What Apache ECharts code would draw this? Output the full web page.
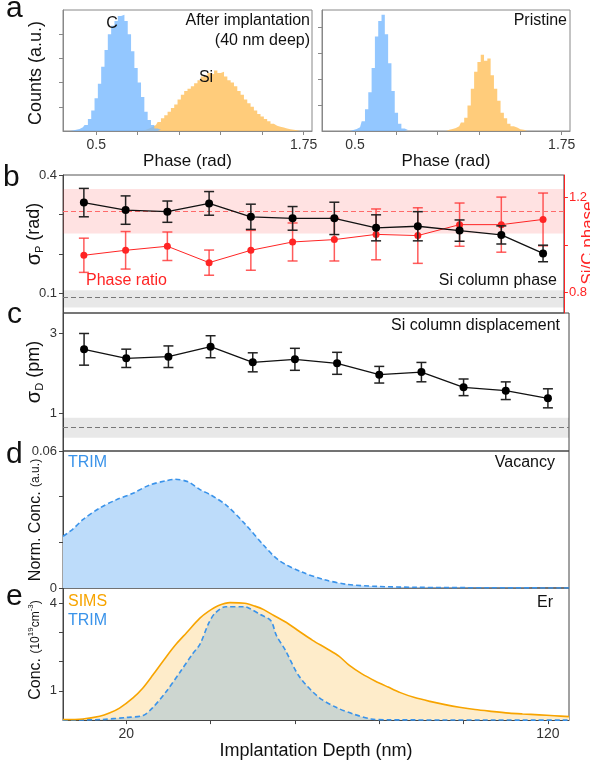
<!DOCTYPE html>
<html>
<head>
<meta charset="utf-8">
<script src="https://cdn.jsdelivr.net/npm/echarts@6/dist/echarts.min.js"></script>
<style>
  html, body { margin: 0; padding: 0; background: #fff; }
  #main { width: 590px; height: 761px; }
</style>
</head>
<body>
<div id="main"></div>
<script>
// panel a: phase histograms (bin width 0.02 rad, counts normalised to plot height = 100)
const phaseStep = 0.02;
const cAfterStart = 0.36;
const cAfter = [0.5, 1, 1.7, 3, 5, 10, 17, 27, 39, 53, 67, 80, 87, 91, 95, 96, 91, 80, 66, 52, 40, 28, 16, 9, 5, 2, 1];
const siAfterStart = 0.80;
const siAfter = [1, 2, 3.5, 5, 7.5, 10.5, 13, 16, 19, 22, 26, 30, 33, 35, 37, 39.5, 42, 45, 46, 48, 47, 50, 48, 49, 45,
  42, 40, 37, 33, 30, 26, 23, 20, 17, 14, 12, 10, 8, 6, 4.4, 3.5, 2.8, 2, 1.5, 1.1, 0.6, 0.3];
const cPristineStart = 0.49;
const cPristine = [0.8, 1.7, 3, 8, 18, 32, 52, 78, 91, 96, 80, 56, 33, 15, 6, 2, 0.8];
const siPristineStart = 1.07;
const siPristine = [1, 1.7, 2.5, 4, 7, 11, 21, 35, 49, 57, 63, 58, 60, 46, 35, 25, 15, 10.5, 6, 4, 2.8, 1.5, 1.1, 0.4];

// panels b, c: per-depth statistics
const depth = [10, 20, 30, 40, 50, 60, 70, 80, 90, 100, 110, 120];
const sigmaP = [0.330, 0.311, 0.307, 0.328, 0.294, 0.290, 0.290, 0.266, 0.270, 0.259, 0.248, 0.201];
const sigmaPErr = [0.036, 0.036, 0.027, 0.030, 0.032, 0.030, 0.041, 0.033, 0.037, 0.027, 0.023, 0.021];
const ratio = [0.956, 0.977, 0.994, 0.925, 0.977, 1.012, 1.022, 1.044, 1.039, 1.085, 1.085, 1.107];
const ratioErr = [0.072, 0.079, 0.060, 0.053, 0.084, 0.080, 0.090, 0.107, 0.117, 0.091, 0.116, 0.111];
const sigmaD = [2.60, 2.375, 2.415, 2.665, 2.275, 2.35, 2.25, 1.965, 2.03, 1.65, 1.565, 1.375];
const sigmaDErr = [0.396, 0.229, 0.27, 0.275, 0.238, 0.275, 0.275, 0.208, 0.242, 0.208, 0.221, 0.238];

// pristine reference levels [low, mean, high]
const pristineRatio = [1.048, 1.138, 1.235];
const pristineSigmaP = [0.064, 0.088, 0.108];
const pristineSigmaD = [0.39, 0.64, 0.89];

// panel d: TRIM vacancy profile
const vacDepth = [5, 7.35, 9.7, 13.7, 17.6, 21.6, 25.5, 29.5, 31.5, 34.7, 37.4, 40.1, 43.7, 48.1, 52.6, 56.2, 61.6, 66.9, 72.3, 79.5, 88.4, 106.3, 125];
const vacancy = [0.0226, 0.0258, 0.0299, 0.035, 0.0386, 0.0415, 0.0451, 0.047, 0.0476, 0.0465, 0.0432, 0.0407, 0.0363, 0.0282, 0.0187, 0.0121, 0.007, 0.0037, 0.0016, 0.0007, 0.0003, 0.0001, 0];

// panel e: Er concentration
const simsDepth = [5, 9.7, 13.7, 16, 18.4, 21.6, 23.9, 26.3, 29.5, 31.9, 34.3, 37.4, 39.5, 41.9, 44.6, 48.1, 50.5, 52.6, 55, 58,
  61, 64.2, 67.5, 70.5, 73, 75.9, 79, 82.1, 85, 88.4, 92, 95.6, 99, 102.7, 106.5, 110.8, 114, 117.9, 121.5, 125];
const sims = [0.02, 0.04, 0.13, 0.24, 0.41, 0.76, 1.09, 1.54, 2.17, 2.61, 2.99, 3.48, 3.72, 3.92, 4.02, 4.0, 3.9, 3.78, 3.58, 3.34,
  3.04, 2.73, 2.45, 2.18, 1.86, 1.58, 1.34, 1.13, 0.94, 0.77, 0.64, 0.53, 0.44, 0.36, 0.3, 0.24, 0.21, 0.18, 0.15, 0.12];
const trimDepth = [5, 14, 20, 24, 26.3, 29.5, 32.7, 35.8, 37.5, 39.5, 41, 43.6, 48.1, 49.5, 51.7, 54.3, 55.6, 57.7, 61, 65.5, 70, 74, 78, 82, 125];
const trim = [0, 0.02, 0.09, 0.16, 0.43, 0.98, 1.63, 2.28, 2.6, 3.3, 3.65, 3.88, 3.88, 3.8, 3.62, 3.4, 2.9, 2.4, 1.5, 0.8, 0.42, 0.2, 0.04, 0.01, 0];

const FONT = 'Liberation Sans, Arial, sans-serif';
const RED = '#ff2424';
const BLUE = '#3a93ea';
const ORANGE = '#f7a400';

function histData(start, counts) {
  let d = [[start - phaseStep, 0]];
  counts.forEach((c, i) => d.push([start + i * phaseStep, c]));
  d.push([start + counts.length * phaseStep, 0]);
  return d;
}
function pairs(xs, ys) { return xs.map((x, i) => [x, ys[i]]); }
function errData(vals, errs) { return depth.map((d, i) => [d, vals[i] - errs[i], vals[i] + errs[i]]); }

function errorBar(color) {
  return function (params, api) {
    let x = api.value(0);
    let lo = api.coord([x, api.value(1)]);
    let hi = api.coord([x, api.value(2)]);
    let half = 5;
    let style = { stroke: color, lineWidth: 1.5 };
    return {
      type: 'group',
      children: [
        { type: 'line', shape: { x1: lo[0], y1: hi[1], x2: lo[0], y2: lo[1] }, style: style },
        { type: 'line', shape: { x1: lo[0] - half, y1: hi[1], x2: lo[0] + half, y2: hi[1] }, style: style },
        { type: 'line', shape: { x1: lo[0] - half, y1: lo[1], x2: lo[0] + half, y2: lo[1] }, style: style }
      ]
    };
  };
}

function histSeries(idx, data, color, z) {
  return {
    type: 'line', xAxisIndex: idx, yAxisIndex: idx, data: data, step: 'middle',
    symbol: 'none', lineStyle: { width: 0 }, areaStyle: { color: color, opacity: 1 }, z: z, silent: true
  };
}

// axes helpers
function phaseAxis(idx) {
  return {
    type: 'value', gridIndex: idx, min: 0.3, max: 1.8,
    splitLine: { show: false },
    axisLine: { show: true, lineStyle: { color: '#888' } },
    axisTick: { show: true, length: 4, lineStyle: { color: '#888' }, customValues: [0.5, 0.75, 1, 1.25, 1.5, 1.75] },
    axisLabel: { customValues: [0.5, 1.75], color: '#333', fontSize: 14, fontFamily: FONT, margin: 7 },
    name: 'Phase (rad)', nameLocation: 'middle', nameGap: 9,
    nameTextStyle: { color: '#111', fontSize: 17, fontFamily: FONT, verticalAlign: 'top' }
  };
}
function countAxis(idx, ticks) {
  return {
    type: 'value', gridIndex: idx, min: 0, max: 100,
    splitLine: { show: false },
    axisLine: { show: true, lineStyle: { color: '#888' } },
    axisTick: { show: true, length: 4, lineStyle: { color: '#888' }, customValues: ticks },
    axisLabel: { show: false }
  };
}
function depthAxis(idx, last) {
  return {
    type: 'value', gridIndex: idx, min: 5, max: 125,
    splitLine: { show: false },
    axisLine: { show: last, lineStyle: { color: '#444' } },
    axisTick: { show: last, length: 4, lineStyle: { color: '#444' }, customValues: [20, 40, 60, 80, 100, 120] },
    axisLabel: { show: last, customValues: [20, 120], color: '#333', fontSize: 14, fontFamily: FONT, margin: 7 },
    name: last ? 'Implantation Depth (nm)' : '', nameLocation: 'middle', nameGap: 13,
    nameTextStyle: { color: '#111', fontSize: 18, fontFamily: FONT, verticalAlign: 'top' }
  };
}
function valueAxis(idx, min, max, ticks, labels, color, pos) {
  return {
    type: 'value', gridIndex: idx, min: min, max: max, position: pos || 'left',
    splitLine: { show: false },
    axisLine: { show: true, lineStyle: { color: color || '#444' } },
    axisTick: { show: true, length: 4, lineStyle: { color: color || '#444' }, customValues: ticks },
    axisLabel: { customValues: labels, color: color || '#333', fontSize: 13, fontFamily: FONT, margin: 6 }
  };
}

const chart = echarts.init(document.getElementById('main'), null, { renderer: 'canvas' });

function txt(text, x, y, opts) {
  opts = opts || {};
  return {
    type: 'text', x: x, y: y, rotation: opts.rot || 0, silent: true, z: 100,
    style: {
      text: text, fill: opts.color || '#111', align: opts.align || 'left', verticalAlign: 'middle',
      font: (opts.size || 16) + 'px ' + FONT, rich: opts.rich
    }
  };
}

const option = {
  animation: false,
  backgroundColor: '#fff',
  grid: [
    { left: 63, top: 10, width: 249, height: 121, show: true, borderColor: '#888', borderWidth: 1 },
    { left: 322, top: 10, width: 248, height: 121, show: true, borderColor: '#888', borderWidth: 1 },
    { left: 63, top: 175, width: 506, height: 138, show: true, borderColor: '#555', borderWidth: 1 },
    { left: 63, top: 313, width: 506, height: 138, show: true, borderColor: '#444', borderWidth: 1 },
    { left: 63, top: 451, width: 506, height: 137, show: true, borderColor: '#444', borderWidth: 1 },
    { left: 63, top: 588, width: 506, height: 138, show: true, borderColor: '#444', borderWidth: 1 }
  ],
  xAxis: [
    phaseAxis(0), phaseAxis(1),
    depthAxis(2, false), depthAxis(3, false), depthAxis(4, false), depthAxis(5, true)
  ],
  yAxis: [
    countAxis(0, [20, 40, 60, 80]),
    countAxis(1, [21.5, 43, 64.5, 86]),
    valueAxis(2, 0.05, 0.4, [0.1, 0.2, 0.3, 0.4], [0.1, 0.4]),
    valueAxis(3, 0.058, 3.508, [1, 3], [1, 3]),
    valueAxis(4, 0, 0.06, [0, 0.02, 0.04, 0.06], [0, 0.06]),
    valueAxis(5, 0, 4.52, [1, 2, 3, 4], [1, 4]),
    Object.assign(valueAxis(2, 0.713, 1.294, [0.8, 1.0, 1.2], [0.8, 1.2], RED, 'right'), { axisLabel: { customValues: [0.8, 1.2], color: RED, fontSize: 13, fontFamily: FONT, margin: 5 } })
  ],
  series: [
    histSeries(0, histData(siAfterStart, siAfter), 'rgba(255,195,100,0.85)', 2),
    histSeries(0, histData(cAfterStart, cAfter), 'rgba(120,185,255,0.8)', 3),
    histSeries(1, histData(siPristineStart, siPristine), 'rgba(255,195,100,0.85)', 2),
    histSeries(1, histData(cPristineStart, cPristine), 'rgba(120,185,255,0.8)', 3),

    // panel b, Si/C phase ratio (right axis)
    {
      type: 'custom', xAxisIndex: 2, yAxisIndex: 6, renderItem: errorBar('rgba(255,50,50,0.8)'),
      data: errData(ratio, ratioErr), encode: { x: 0, y: [1, 2] }, z: 3
    },
    {
      type: 'line', xAxisIndex: 2, yAxisIndex: 6, data: pairs(depth, ratio),
      symbol: 'circle', symbolSize: 7, itemStyle: { color: RED }, lineStyle: { color: RED, width: 1 }, z: 4,
      markArea: { silent: true, itemStyle: { color: 'rgba(255,60,60,0.15)' }, data: [[{ yAxis: pristineRatio[0] }, { yAxis: pristineRatio[2] }]] },
      markLine: { silent: true, symbol: 'none', label: { show: false }, lineStyle: { color: '#ff6a6a', type: [5, 3], width: 1 }, data: [{ yAxis: pristineRatio[1] }] }
    },
    // panel b, sigma P (left axis)
    {
      type: 'custom', xAxisIndex: 2, yAxisIndex: 2, renderItem: errorBar('#222'),
      data: errData(sigmaP, sigmaPErr), encode: { x: 0, y: [1, 2] }, z: 5
    },
    {
      type: 'line', xAxisIndex: 2, yAxisIndex: 2, data: pairs(depth, sigmaP),
      symbol: 'circle', symbolSize: 8, itemStyle: { color: '#000' }, lineStyle: { color: '#111', width: 1.3 }, z: 6,
      markArea: { silent: true, itemStyle: { color: 'rgba(0,0,0,0.09)' }, data: [[{ yAxis: pristineSigmaP[0] }, { yAxis: pristineSigmaP[2] }]] },
      markLine: { silent: true, symbol: 'none', label: { show: false }, lineStyle: { color: '#777', type: [5, 3], width: 1 }, data: [{ yAxis: pristineSigmaP[1] }] }
    },
    // panel c
    {
      type: 'custom', xAxisIndex: 3, yAxisIndex: 3, renderItem: errorBar('#222'),
      data: errData(sigmaD, sigmaDErr), encode: { x: 0, y: [1, 2] }, z: 5
    },
    {
      type: 'line', xAxisIndex: 3, yAxisIndex: 3, data: pairs(depth, sigmaD),
      symbol: 'circle', symbolSize: 8, itemStyle: { color: '#000' }, lineStyle: { color: '#111', width: 1.3 }, z: 6,
      markArea: { silent: true, itemStyle: { color: 'rgba(0,0,0,0.09)' }, data: [[{ yAxis: pristineSigmaD[0] }, { yAxis: pristineSigmaD[2] }]] },
      markLine: { silent: true, symbol: 'none', label: { show: false }, lineStyle: { color: '#777', type: [5, 3], width: 1 }, data: [{ yAxis: pristineSigmaD[1] }] }
    },
    // panel d
    {
      type: 'line', xAxisIndex: 4, yAxisIndex: 4, data: pairs(vacDepth, vacancy), smooth: 0.3,
      symbol: 'none', lineStyle: { color: BLUE, width: 1.6, type: [5, 3] }, areaStyle: { color: '#bddcfa', opacity: 1 }
    },
    // panel e
    {
      type: 'line', xAxisIndex: 5, yAxisIndex: 5, data: pairs(simsDepth, sims), smooth: 0.3,
      symbol: 'none', lineStyle: { width: 0 }, areaStyle: { color: '#feecca', opacity: 1 }, z: 1
    },
    {
      type: 'line', xAxisIndex: 5, yAxisIndex: 5, data: pairs(trimDepth, trim), smooth: 0.3,
      symbol: 'none', lineStyle: { color: BLUE, width: 1.6, type: [5, 3] }, areaStyle: { color: '#cdd6d0', opacity: 1 }, z: 2
    },
    {
      type: 'line', xAxisIndex: 5, yAxisIndex: 5, data: pairs(simsDepth, sims), smooth: 0.3,
      symbol: 'none', lineStyle: { color: ORANGE, width: 1.6 }, z: 3
    }
  ],
  graphic: [
    // panel letters
    txt('a', 6, 9, { size: 30 }),
    txt('b', 3, 178, { size: 30 }),
    txt('c', 7, 315, { size: 30 }),
    txt('d', 6, 455, { size: 30 }),
    txt('e', 6, 597, { size: 30 }),
    // panel a
    txt('After implantation', 310, 21, { align: 'right' }),
    txt('(40 nm deep)', 310, 41, { align: 'right' }),
    txt('C', 112, 24, { align: 'center' }),
    txt('Si', 206, 78, { align: 'center' }),
    txt('Pristine', 567, 21, { align: 'right' }),
    txt('Counts (a.u.)', 36, 73, { rot: Math.PI / 2, align: 'center', size: 18 }),
    // panel b
    txt('Phase ratio', 86, 281, { color: RED }),
    txt('Si column phase', 557, 281, { align: 'right' }),
    txt('{g|σ}{s|P}{n| (rad)}', 34, 234, {
      rot: Math.PI / 2, align: 'center',
      rich: {
        g: { fontSize: 20, fontFamily: FONT, fill: '#111', lineHeight: 22 },
        s: { fontSize: 11, fontFamily: FONT, fill: '#111', verticalAlign: 'bottom', lineHeight: 22 },
        n: { fontSize: 18, fontFamily: FONT, fill: '#111', lineHeight: 22 }
      }
    }),
    txt('Si/C phase', 588, 243, { rot: Math.PI / 2, align: 'center', size: 17, color: RED }),
    // panel c
    txt('Si column displacement', 560, 326, { align: 'right' }),
    txt('{g|σ}{s|D}{n| (pm)}', 34, 372, {
      rot: Math.PI / 2, align: 'center',
      rich: {
        g: { fontSize: 20, fontFamily: FONT, fill: '#111', lineHeight: 22 },
        s: { fontSize: 11, fontFamily: FONT, fill: '#111', verticalAlign: 'bottom', lineHeight: 22 },
        n: { fontSize: 18, fontFamily: FONT, fill: '#111', lineHeight: 22 }
      }
    }),
    // panel d
    txt('TRIM', 68, 463, { color: BLUE }),
    txt('Vacancy', 555, 463, { align: 'right' }),
    txt('{b|Norm. Conc. }{s|(a.u.)}', 36, 520, {
      rot: Math.PI / 2, align: 'center',
      rich: {
        b: { fontSize: 16, fontFamily: FONT, fill: '#111', lineHeight: 18 },
        s: { fontSize: 12, fontFamily: FONT, fill: '#111', lineHeight: 18 }
      }
    }),
    // panel e
    txt('SIMS', 68, 602, { color: ORANGE }),
    txt('TRIM', 68, 621, { color: BLUE }),
    txt('Er', 553, 603, { align: 'right' }),
    txt('{b|Conc. }{s|(10}{p|19}{s|cm}{p|-3}{s|)}', 36, 650, {
      rot: Math.PI / 2, align: 'center',
      rich: {
        b: { fontSize: 16, fontFamily: FONT, fill: '#111', lineHeight: 18 },
        s: { fontSize: 12, fontFamily: FONT, fill: '#111', lineHeight: 18 },
        p: { fontSize: 8, fontFamily: FONT, fill: '#111', verticalAlign: 'top', lineHeight: 18 }
      }
    })
  ]
};

chart.setOption(option);
</script>
</body>
</html>
